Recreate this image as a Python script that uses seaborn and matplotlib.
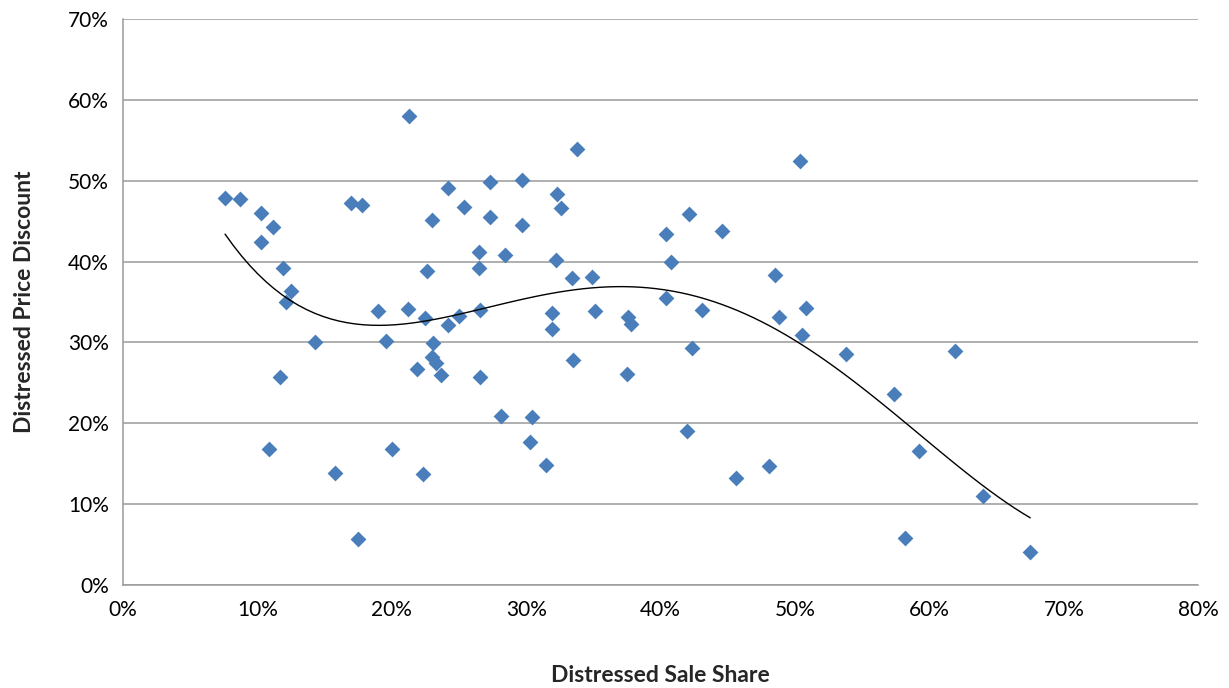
import numpy as np
import pandas as pd
import matplotlib
matplotlib.use("Agg")
import matplotlib.pyplot as plt
import seaborn as sns
from matplotlib.ticker import FuncFormatter

# Distressed sale share (%) and distressed price discount (%)
sale_share = [7.6, 8.7, 10.3, 11.2, 10.3, 11.9, 12.5, 12.1, 14.3, 11.7,
              10.9, 15.8, 17.5, 17.0, 17.8, 21.3, 23.0, 19.0, 19.6, 21.2,
              22.6, 22.5, 21.9, 20.0, 22.3, 23.1, 23.0, 23.3, 23.7, 24.2,
              24.2, 25.0, 25.4, 27.3, 27.3, 26.5, 26.5, 26.6, 26.6, 28.4,
              28.1, 29.7, 29.7, 30.4, 30.3, 31.5, 32.3, 32.6, 32.2, 31.9,
              31.9, 33.8, 33.4, 34.9, 35.1, 33.5, 37.6, 37.8, 37.5, 40.4,
              42.1, 40.8, 40.4, 43.1, 42.3, 42.0, 44.6, 45.6, 48.1, 50.4,
              48.5, 48.8, 50.8, 50.5, 53.8, 57.4, 59.2, 58.2, 61.9, 64.0,
              67.5]
price_discount = [47.8, 47.7, 46.0, 44.3, 42.4, 39.2, 36.3, 35.0, 30.0, 25.7,
                  16.8, 13.8, 5.7, 47.3, 47.0, 58.0, 45.2, 33.9, 30.2, 34.1,
                  38.8, 33.0, 26.7, 16.8, 13.7, 29.9, 28.2, 27.4, 26.0, 49.1,
                  32.1, 33.3, 46.7, 49.9, 45.5, 41.2, 39.2, 34.0, 25.7, 40.8,
                  20.9, 50.1, 44.5, 20.8, 17.7, 14.8, 48.3, 46.6, 40.2, 33.6,
                  31.6, 53.9, 38.0, 38.1, 33.9, 27.8, 33.1, 32.3, 26.1, 43.4,
                  45.9, 39.9, 35.5, 34.0, 29.3, 19.0, 43.8, 13.2, 14.7, 52.4,
                  38.4, 33.1, 34.2, 30.9, 28.6, 23.6, 16.6, 5.8, 28.9, 11.0,
                  4.1]

x_ticks = [0, 10, 20, 30, 40, 50, 60, 70, 80]
y_ticks = [0, 10, 20, 30, 40, 50, 60, 70]

df = pd.DataFrame({"share": sale_share, "discount": price_discount})

sns.set_style("white")
plt.rcParams["font.family"] = ["Lato", "DejaVu Sans"]

fig = plt.figure(figsize=(12.29, 6.88), dpi=100)
ax = fig.add_axes([0.100, 0.1497, 0.875, 0.8227])

grey = "#9a9a9a"
ax.yaxis.grid(True, color=grey, linewidth=1.1)
ax.set_axisbelow(True)

sns.scatterplot(data=df, x="share", y="discount", marker="D", s=65,
                color="#4a7ebb", linewidth=0, ax=ax, zorder=3)
# polynomial trend line
sns.regplot(data=df, x="share", y="discount", order=4, ci=None,
            scatter=False, truncate=True, ax=ax,
            line_kws={"color": "black", "linewidth": 1.0, "zorder": 4})

ax.set_xlim(0, 80)
ax.set_ylim(0, 70)
ax.set_xticks(x_ticks)
ax.set_yticks(y_ticks)
pct = FuncFormatter(lambda v, _: f"{v:.0f}%")
ax.xaxis.set_major_formatter(pct)
ax.yaxis.set_major_formatter(pct)

for side in ["top", "right"]:
    ax.spines[side].set_visible(False)
for side in ["left", "bottom"]:
    ax.spines[side].set_color(grey)
    ax.spines[side].set_linewidth(1.1)

ax.tick_params(axis="both", which="major", direction="out", length=6,
               width=1.1, color=grey, labelsize=15, labelcolor="black")
ax.tick_params(axis="x", pad=5)
ax.tick_params(axis="y", pad=4)

ax.set_xlabel("Distressed Sale Share", fontsize=16.5, fontweight="bold", labelpad=32)
ax.set_ylabel("Distressed Price Discount", fontsize=16.5, fontweight="bold", labelpad=24)

fig.savefig("out.png", dpi=100)
